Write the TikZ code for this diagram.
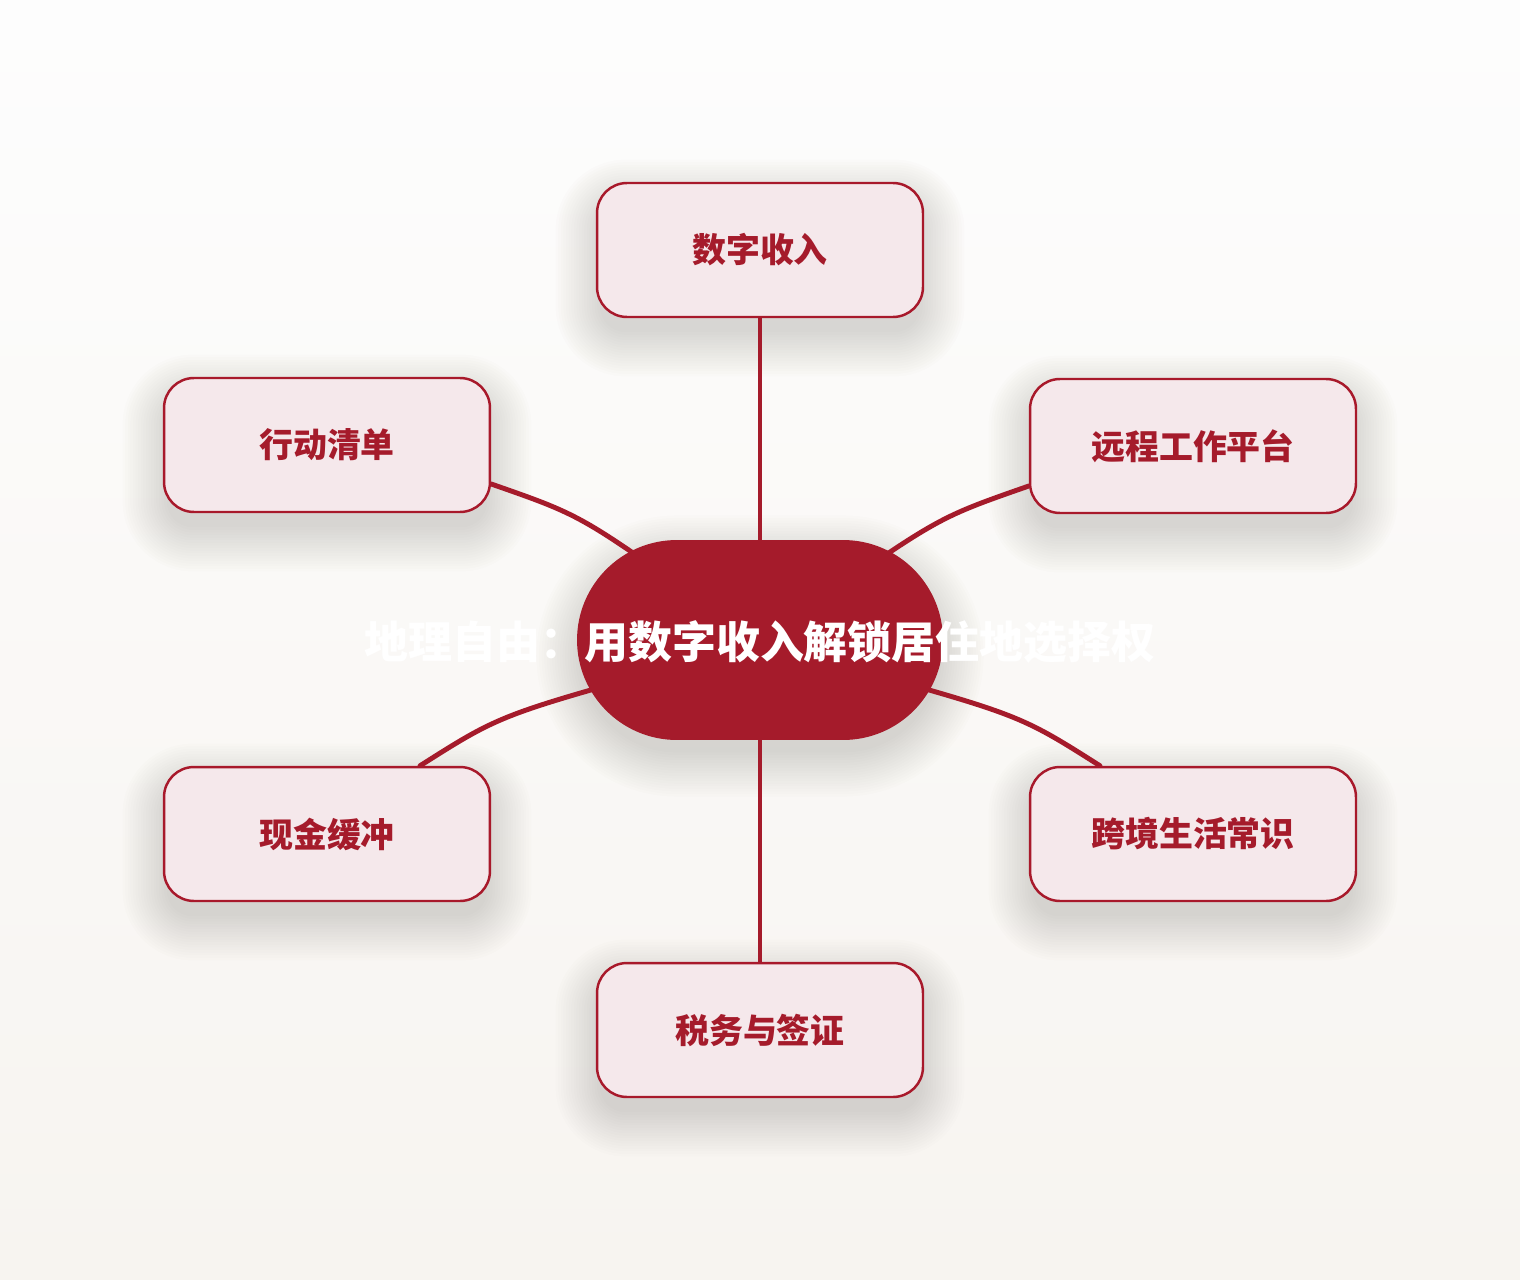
\documentclass[tikz,border=0pt]{standalone}
\usepackage{fontspec}
\setmainfont{Noto Sans CJK SC}
\usetikzlibrary{calc}
\definecolor{deepred}{HTML}{A51B2B}
\definecolor{boxfill}{HTML}{F5E8EB}
\definecolor{boxline}{HTML}{A8192B}
\definecolor{bgtop}{HTML}{FDFDFD}
\definecolor{bgbot}{HTML}{F7F4F0}
\definecolor{shadowcol}{HTML}{5A5048}
\pgfdeclarelayer{bg}
\pgfdeclarelayer{edges}
\pgfsetlayers{bg,edges,main}
\tikzset{
  topic/.style={draw=boxline, line width=1.4pt, fill=boxfill, rounded corners=0.6cm,
    minimum width=6.52cm, minimum height=2.68cm, text=deepred,
    font=\bfseries\fontsize{19.3}{22}\selectfont, inner sep=0pt},
  hub/.style={fill=deepred, rounded corners=2cm, minimum width=7.32cm, minimum height=4cm, inner sep=0pt},
  hubtext/.style={text=white, font=\bfseries\fontsize{25}{30}\selectfont, inner sep=0pt},
  link/.style={draw=deepred, line width=2.8pt, line cap=round},
  shadowlayer/.style={fill=shadowcol, fill opacity=0.013, draw=none}
}
\begin{document}
\begin{tikzpicture}[x=0.02cm, y=-0.02cm]
\useasboundingbox (0,0) rectangle (1520,1280);
\begin{pgfonlayer}{bg}
\shade[top color=bgtop, bottom color=bgbot] (0,0) rectangle (1520,1280);
\end{pgfonlayer}

\node[hub] (c) at (760,640) {};
\node[hubtext] (ct) at (760,642) {地理自由：用数字收入解锁居住地选择权};
\node[topic] (t) at (760,250) {\raisebox{-2.5pt}{数字收入}};
\node[topic] (lt) at (327,445) {\raisebox{-2.5pt}{行动清单}};
\node[topic] (rt) at (1193,446) {\raisebox{-2.5pt}{远程工作平台}};
\node[topic] (lb) at (327,834) {\raisebox{-2.5pt}{现金缓冲}};
\node[topic] (rb) at (1193,834) {\raisebox{-2.5pt}{跨境生活常识}};
\node[topic] (b) at (760,1030) {\raisebox{-2.5pt}{税务与签证}};

\begin{pgfonlayer}{bg}
\foreach \n in {t,lt,rt,lb,rb,b}{
  \foreach \i in {0,...,17}{
    \pgfmathsetmacro\r{2.6*\i-4}
    \pgfmathsetmacro\rc{max(4,30+\r)*0.569}
    \path[shadowlayer, rounded corners=\rc pt]
      ($(\n.south west)+(-\r,\r+18)$) rectangle ($(\n.north east)+(\r,-\r+18)$);
  }
}
\foreach \i in {0,...,17}{
  \pgfmathsetmacro\r{2.6*\i-4}
  \pgfmathsetmacro\rc{(100+\r)*0.569}
  \path[shadowlayer, rounded corners=\rc pt]
    ($(c.south west)+(-\r,\r+16)$) rectangle ($(c.north east)+(\r,-\r+16)$);
}
\end{pgfonlayer}

\coordinate (clt) at (700,600);
\coordinate (crt) at (820,600);
\coordinate (clb) at (680,665);
\coordinate (crb) at (840,665);

\begin{pgfonlayer}{edges}
\draw[link] (t.south) -- (c.north);
\draw[link] (c.south) -- (b.north);
\draw[link] ($(lt.east)+(0,39)$) .. controls (580,515) .. (clt);
\draw[link] ($(rt.west)+(0,40)$) .. controls (940,517) .. (crt);
\draw[link] ($(lb.north)+(93,0)$) .. controls (500,715) .. (clb);
\draw[link] ($(rb.north)+(-93,0)$) .. controls (1020,715) .. (crb);
\end{pgfonlayer}
\end{tikzpicture}
\end{document}
